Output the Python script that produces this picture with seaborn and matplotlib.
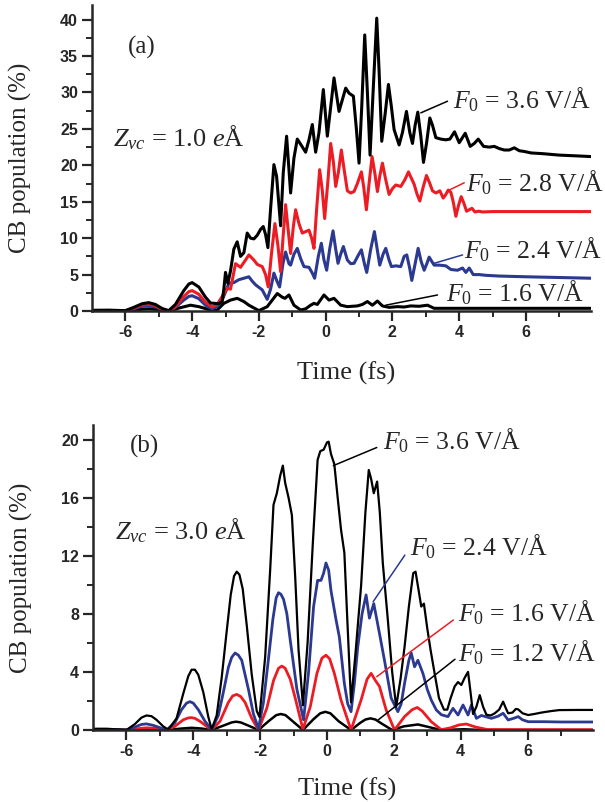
import matplotlib
matplotlib.use("Agg")
import matplotlib.pyplot as plt
import seaborn as sns
import pandas as pd

# ---------------- data (time in fs, CB population in %) ----------------
# Panel (a): Z_vc = 1.0 eÅ
a_f36 = [(-7.0,0.1),(-6.5,0.12),(-6.0,0.05),(-5.75,0.5),(-5.5,1.0),(-5.3,1.15),(-5.1,0.9),(-4.9,0.35),
         (-4.7,0.05),(-4.5,0.9),(-4.25,2.8),(-4.1,3.7),(-4.0,3.9),(-3.8,3.3),(-3.6,1.9),(-3.45,1.1),(-3.2,1.0),
         (-3.1,1.3),(-3.05,3.0),(-3.0,5.3),(-2.93,3.8),(-2.85,5.5),(-2.75,8.5),(-2.65,9.5),(-2.55,7.5),
         (-2.45,8.0),(-2.35,10.7),(-2.25,10.0),(-2.15,9.9),(-2.05,10.4),(-1.95,11.2),(-1.87,11.6),
         (-1.8,10.5),(-1.73,8.7),(-1.65,14.0),(-1.55,20.1),(-1.47,18.5),(-1.35,11.7),(-1.27,19.0),
         (-1.17,24.0),(-1.05,16.2),(-0.95,21.0),(-0.85,23.6),(-0.75,22.9),(-0.6,21.8),(-0.5,23.5),
         (-0.4,25.6),(-0.3,21.8),(-0.2,24.5),(-0.07,30.4),(0.05,24.0),(0.15,28.0),(0.25,32.0),
         (0.4,27.4),(0.5,29.0),(0.6,30.6),(0.7,29.9),(0.83,29.5),(0.92,25.0),(1.0,20.3),(1.08,28.0),
         (1.17,37.9),(1.25,30.0),(1.33,21.4),(1.42,30.0),(1.53,40.2),(1.6,33.0),(1.68,23.3),(1.78,27.0),
         (1.88,31.1),(1.97,28.0),(2.05,24.9),(2.2,22.8),(2.3,24.5),(2.42,27.4),(2.52,24.5),(2.6,23.0),
         (2.68,25.5),(2.76,27.3),(2.85,24.0),(2.93,20.4),(3.02,23.0),(3.12,26.5),(3.2,25.5),(3.3,23.8),
         (3.45,23.6),(3.6,23.5),(3.72,23.6),(3.86,24.6),(4.0,23.1),(4.18,24.4),(4.33,22.6),(4.45,23.0),
         (4.57,23.6),(4.73,22.6),(4.9,22.5),(5.05,22.6),(5.2,22.3),(5.35,22.1),(5.5,22.1),(5.65,22.4),
         (5.8,22.0),(5.95,21.9),(6.15,21.7),(6.5,21.6),(7.0,21.4),(7.5,21.3),(7.95,21.2)]
a_f28 = [(-7.0,0.05),(-6.0,0.02),(-5.75,0.4),(-5.5,0.85),(-5.3,0.95),(-5.1,0.75),(-4.9,0.25),(-4.7,0.02),
         (-4.5,0.6),(-4.25,2.0),(-4.1,2.65),(-4.0,2.8),(-3.8,2.3),(-3.6,1.2),(-3.4,0.55),(-3.25,0.9),(-3.1,2.0),
         (-2.95,3.1),(-2.85,3.0),(-2.7,6.5),(-2.55,6.0),(-2.4,7.0),(-2.3,7.7),(-2.15,7.0),(-2.05,6.4),
         (-1.9,6.1),(-1.8,5.0),(-1.72,3.3),(-1.62,8.0),(-1.52,12.0),(-1.43,9.0),(-1.35,5.4),(-1.27,10.5),
         (-1.2,14.6),(-1.12,11.0),(-1.05,7.9),(-0.97,11.5),(-0.9,13.9),(-0.8,12.0),(-0.7,10.7),(-0.6,10.9),
         (-0.5,11.1),(-0.42,10.0),(-0.35,8.6),(-0.27,14.0),(-0.18,19.4),(-0.1,16.5),(-0.03,12.7),(0.07,18.0),
         (0.15,23.0),(0.23,20.5),(0.3,17.1),(0.38,19.0),(0.47,22.1),(0.55,19.5),(0.65,16.5),(0.75,16.2),
         (0.85,16.4),(0.95,17.5),(1.07,19.1),(1.14,17.0),(1.22,13.9),(1.3,17.5),(1.39,21.2),(1.47,19.0),
         (1.55,16.4),(1.62,18.5),(1.7,20.3),(1.8,18.0),(1.9,16.0),(2.0,16.8),(2.1,17.3),(2.25,17.1),
         (2.37,18.0),(2.48,19.1),(2.56,18.3),(2.65,17.4),(2.74,16.0),(2.82,15.1),(2.92,17.0),(3.02,18.6),
         (3.12,17.5),(3.2,16.5),(3.3,16.2),(3.42,16.5),(3.52,15.5),(3.6,16.0),(3.67,16.6),(3.75,16.3),
         (3.82,15.0),(3.9,13.0),(3.98,14.5),(4.06,15.7),(4.14,14.8),(4.22,13.7),(4.3,13.9),(4.38,14.1),
         (4.47,13.6),(4.58,13.7),(4.7,13.6),(5.0,13.65),(6.0,13.65),(7.95,13.65)]
a_f24 = [(-7.0,0.05),(-6.0,0.02),(-5.75,0.3),(-5.5,0.65),(-5.3,0.7),(-5.1,0.55),(-4.9,0.2),(-4.7,0.02),
         (-4.5,0.5),(-4.25,1.5),(-4.1,2.0),(-4.0,2.1),(-3.8,1.7),(-3.6,0.8),(-3.4,0.3),(-3.25,0.6),(-3.1,1.5),
         (-3.0,2.6),(-2.9,3.8),(-2.75,3.9),(-2.6,4.3),(-2.45,4.5),(-2.3,4.7),(-2.2,4.1),(-2.1,3.6),
         (-1.9,2.9),(-1.75,1.6),(-1.65,3.0),(-1.55,5.2),(-1.45,4.0),(-1.38,3.3),(-1.28,6.5),(-1.2,8.1),
         (-1.1,6.5),(-1.05,6.3),(-0.95,7.8),(-0.85,8.6),(-0.75,7.2),(-0.65,6.1),(-0.5,6.0),(-0.4,5.2),
         (-0.33,4.5),(-0.22,7.5),(-0.13,9.3),(-0.05,7.0),(0.03,5.6),(0.12,8.5),(0.22,11.0),(0.3,8.5),
         (0.37,6.55),(0.45,7.8),(0.53,8.85),(0.65,7.0),(0.75,6.5),(0.85,6.55),(0.97,7.6),(1.07,8.4),
         (1.16,6.5),(1.23,5.3),(1.35,8.5),(1.46,10.9),(1.55,8.3),(1.62,6.3),(1.72,7.8),(1.8,8.6),
         (1.9,7.0),(1.97,6.1),(2.1,6.2),(2.25,6.1),(2.35,7.5),(2.43,7.7),(2.52,5.8),(2.58,4.2),
         (2.68,6.5),(2.77,8.6),(2.86,6.8),(2.95,5.6),(3.03,6.5),(3.1,7.4),(3.18,6.8),(3.25,6.3),
         (3.4,6.3),(3.6,6.2),(3.75,5.7),(3.95,5.6),(4.1,5.9),(4.2,5.3),(4.3,5.9),(4.42,5.0),
         (4.6,5.0),(4.8,4.9),(5.2,4.8),(6.0,4.7),(7.0,4.6),(7.95,4.5)]
a_f16 = [(-7.0,0.05),(-6.0,0.02),(-5.6,0.2),(-5.3,0.3),(-5.0,0.2),(-4.7,0.02),(-4.4,0.4),(-4.05,0.8),
         (-3.8,0.6),(-3.5,0.2),(-3.25,0.13),(-3.05,1.05),(-2.85,1.5),(-2.65,1.74),(-2.45,1.3),(-2.3,0.8),
         (-2.0,0.05),(-1.75,0.6),(-1.6,1.5),(-1.45,2.4),(-1.3,1.9),(-1.22,1.74),(-1.1,2.2),(-0.95,0.8),
         (-0.75,0.14),(-0.6,0.3),(-0.45,0.8),(-0.35,1.05),(-0.25,0.9),(-0.05,2.2),(0.1,1.5),(0.25,1.74),
         (0.45,0.8),(0.65,0.6),(0.95,0.7),(1.1,0.9),(1.25,1.3),(1.4,0.8),(1.55,1.37),(1.7,0.7),
         (1.9,0.5),(2.15,0.6),(2.35,0.55),(2.55,0.7),(2.8,0.65),(3.05,0.8),(3.25,0.37),(4.0,0.37),
         (7.95,0.37)]

# Panel (b): Z_vc = 3.0 eÅ
b_f36 = [(-7.0,0.08),(-6.6,0.08),(-6.2,0.03),(-6.0,0.0),(-5.75,0.4),(-5.55,0.85),(-5.4,1.0),(-5.25,0.95),
         (-5.1,0.7),(-4.9,0.25),(-4.75,0.02),(-4.5,0.8),(-4.3,2.5),(-4.15,3.7),(-4.05,4.15),(-3.95,4.15),
         (-3.85,3.8),(-3.7,2.6),(-3.55,0.9),(-3.45,0.05),(-3.3,1.0),(-3.15,3.6),(-3.0,6.8),(-2.88,9.3),
         (-2.78,10.6),(-2.7,10.9),(-2.62,10.7),(-2.52,9.7),(-2.4,7.2),(-2.25,3.8),(-2.1,1.3),(-2.02,0.9),
         (-1.85,5.0),(-1.7,11.0),(-1.6,15.5),(-1.5,16.3),(-1.4,17.5),(-1.32,18.2),(-1.25,17.0),
         (-1.15,16.0),(-1.05,14.8),(-0.95,10.5),(-0.85,5.5),(-0.72,1.7),(-0.58,6.0),(-0.42,13.0),
         (-0.28,18.6),(-0.2,19.2),(-0.1,19.3),(0.0,19.8),(0.05,19.85),(0.12,19.0),(0.22,18.3),
         (0.32,16.0),(0.42,13.8),(0.52,12.2),(0.62,7.0),(0.72,1.9),(0.85,5.2),(1.02,9.9),(1.15,15.0),
         (1.25,17.9),(1.32,17.3),(1.4,16.3),(1.5,17.1),(1.58,15.0),(1.67,11.5),(1.82,7.6),(1.95,4.0),
         (2.07,1.6),(2.2,3.5),(2.32,5.7),(2.45,8.5),(2.58,10.8),(2.65,10.9),(2.75,9.5),(2.82,8.5),
         (2.9,8.7),(3.0,7.0),(3.1,5.5),(3.22,3.9),(3.35,2.2),(3.5,1.4),(3.6,1.4),(3.7,2.2),(3.82,3.0),
         (3.92,3.3),(4.02,3.1),(4.12,3.6),(4.22,4.0),(4.3,2.5),(4.37,1.1),(4.47,1.6),(4.57,2.4),
         (4.67,1.6),(4.77,1.05),(4.9,1.0),(5.02,1.15),(5.15,1.4),(5.27,1.95),(5.35,1.5),(5.42,1.15),
         (5.55,1.2),(5.65,1.45),(5.72,1.42),(5.85,1.15),(6.02,1.03),(6.2,1.1),(6.42,1.2),(6.7,1.3),
         (6.95,1.37),(7.5,1.38),(7.95,1.38)]
b_f24 = [(-7.0,0.05),(-6.5,0.05),(-6.0,0.0),(-5.75,0.2),(-5.55,0.38),(-5.4,0.42),(-5.2,0.32),(-4.8,0.0),
         (-4.55,0.5),(-4.35,1.4),(-4.2,1.85),(-4.1,1.95),(-4.0,1.85),(-3.85,1.4),(-3.65,0.6),(-3.45,0.02),
         (-3.25,1.0),(-3.1,2.6),(-2.95,4.3),(-2.85,5.0),(-2.75,5.3),(-2.65,5.15),(-2.55,4.8),(-2.35,2.8),
         (-2.2,1.1),(-2.05,0.1),(-1.9,1.9),(-1.75,4.9),(-1.62,7.6),(-1.52,9.1),(-1.45,9.45),(-1.38,9.35),
         (-1.3,9.0),(-1.2,8.0),(-1.1,6.2),(-0.9,2.8),(-0.7,0.7),(-0.55,4.0),(-0.4,8.5),(-0.28,10.3),
         (-0.18,10.3),(-0.1,10.8),(-0.03,11.5),(0.05,11.0),(0.12,9.6),(0.27,7.6),(0.37,6.4),(0.52,3.2),
         (0.62,1.8),(0.72,1.26),(0.82,3.2),(0.92,5.7),(1.05,8.0),(1.17,9.3),(1.27,7.7),(1.4,8.7),
         (1.57,6.65),(1.72,4.8),(1.92,2.2),(2.12,1.26),(2.22,1.8),(2.32,3.2),(2.45,4.8),(2.52,5.3),
         (2.62,4.35),(2.72,4.8),(2.87,3.9),(3.0,2.8),(3.12,2.06),(3.27,1.38),(3.42,1.05),(3.62,0.92),
         (3.77,1.49),(3.92,1.03),(4.07,1.72),(4.22,1.03),(4.32,1.72),(4.47,0.8),(4.62,1.0),(4.92,0.8),
         (5.12,0.95),(5.27,1.15),(5.42,0.69),(5.58,0.8),(5.72,0.92),(5.85,0.7),(6.02,0.57),(6.5,0.57),
         (7.0,0.55),(7.95,0.55)]
b_f16 = [(-7.0,0.02),(-6.0,0.0),(-5.7,0.08),(-5.4,0.15),(-5.1,0.1),(-4.8,0.0),(-4.55,0.25),(-4.3,0.7),
         (-4.15,0.83),(-4.05,0.85),(-3.95,0.8),(-3.8,0.6),(-3.6,0.25),(-3.45,0.0),(-3.2,0.6),(-2.95,1.9),
         (-2.82,2.35),(-2.7,2.45),(-2.58,2.3),(-2.45,1.9),(-2.25,0.8),(-2.05,0.0),(-1.8,1.5),(-1.6,3.4),
         (-1.45,4.25),(-1.35,4.4),(-1.25,4.25),(-1.1,3.5),(-0.95,2.2),(-0.72,0.05),(-0.5,1.6),(-0.3,3.9),
         (-0.15,4.95),(-0.03,5.15),(0.08,4.9),(0.22,3.9),(0.42,2.06),(0.72,0.0),(1.02,2.06),(1.2,3.5),
         (1.32,3.9),(1.45,3.4),(1.57,3.0),(1.77,1.38),(2.02,0.0),(2.32,0.92),(2.55,1.4),(2.7,1.55),
         (2.85,1.3),(3.12,0.57),(3.42,0.02),(3.7,0.15),(3.95,0.35),(4.17,0.41),(4.45,0.2),(4.8,0.03),
         (7.95,0.02)]
b_f12 = [(-7.0,0.0),(-5.7,0.02),(-5.4,0.03),(-4.8,0.0),(-4.35,0.1),(-4.05,0.15),(-3.75,0.1),(-3.45,0.0),
         (-3.1,0.3),(-2.85,0.52),(-2.72,0.57),(-2.58,0.52),(-2.35,0.3),(-2.05,0.0),(-1.75,0.6),(-1.52,1.02),
         (-1.38,1.1),(-1.24,1.02),(-1.0,0.55),(-0.72,0.0),(-0.4,0.75),(-0.2,1.15),(-0.05,1.25),(0.1,1.15),
         (0.35,0.6),(0.72,0.0),(1.0,0.5),(1.15,0.72),(1.3,0.8),(1.45,0.72),(1.65,0.42),(1.95,0.0),
         (2.3,0.25),(2.72,0.38),(3.05,0.2),(3.4,0.0),(4.1,0.05),(4.6,0.0),(7.95,0.0)]

a_labels = ["$F_0$ = 3.6 V/Å", "$F_0$ = 2.8 V/Å", "$F_0$ = 2.4 V/Å", "$F_0$ = 1.6 V/Å"]
b_labels = ["$F_0$ = 3.6 V/Å", "$F_0$ = 2.4 V/Å", "$F_0$ = 1.6 V/Å", "$F_0$ = 1.2 V/Å"]
x_ticks = [-6, -4, -2, 0, 2, 4, 6]
a_yticks = [0, 5, 10, 15, 20, 25, 30, 35, 40]
b_yticks = [0, 4, 8, 12, 16, 20]

BLACK, RED, BLUE = "#000000", "#ec1c24", "#2b3990"

# ---------------- style ----------------
sns.set_style("ticks")
plt.rcParams.update({
    "font.family": ["Liberation Serif", "DejaVu Serif"],
    "mathtext.fontset": "custom",
    "mathtext.rm": "Liberation Serif",
    "mathtext.it": "Liberation Serif:italic",
    "mathtext.bf": "Liberation Serif:bold",
    "axes.unicode_minus": False,
    "axes.linewidth": 1.8,
    "lines.solid_joinstyle": "round",
    "lines.solid_capstyle": "round",
})

fig = plt.figure(figsize=(6.05, 8.02), dpi=100)
ax1 = fig.add_axes([0.152, 0.6122, 0.825, 0.3815])
ax2 = fig.add_axes([0.1537, 0.0898, 0.826, 0.3803])


def draw(ax, pairs, color, lw):
    df = pd.DataFrame(pairs, columns=["t", "v"])
    sns.lineplot(data=df, x="t", y="v", ax=ax, color=color, linewidth=lw,
                 sort=False, estimator=None, legend=False)


draw(ax1, a_f16, BLACK, 2.2)
draw(ax1, a_f24, BLUE, 2.2)
draw(ax1, a_f28, RED, 2.2)
draw(ax1, a_f36, BLACK, 2.2)

draw(ax2, b_f12, BLACK, 1.8)
draw(ax2, b_f16, RED, 2.0)
draw(ax2, b_f24, BLUE, 2.0)
draw(ax2, b_f36, BLACK, 1.6)

for ax, yt, ymax in [(ax1, a_yticks, 42), (ax2, b_yticks, 21)]:
    ax.set_xlim(-7, 7.95)
    ax.set_ylim(0, ymax)
    ax.set_xticks(x_ticks)
    ax.set_xticks([-5, -3, -1, 1, 3, 5, 7], minor=True)
    ax.set_yticks(yt)
    step = yt[1] - yt[0]
    ax.set_yticks([v + step / 2 for v in yt[:-1]], minor=True)
    ax.set_xticklabels([str(v) for v in x_ticks])
    ax.set_yticklabels([str(v) for v in yt])
    for s in ["top", "right"]:
        ax.spines[s].set_visible(False)
    ax.tick_params(which="major", direction="out", length=7, width=1.6, pad=3)
    ax.tick_params(which="minor", direction="out", length=4, width=1.4)
    for lab in ax.get_xticklabels() + ax.get_yticklabels():
        lab.set_fontfamily("Liberation Sans")
        lab.set_fontweight("bold")
        lab.set_fontsize(11.5)
    ax.set_xlabel("Time (fs)", fontsize=19)
    ax.set_ylabel("CB population (%)", fontsize=18)
    ax.yaxis.set_label_coords(-0.12, 0.5)

ax1.xaxis.set_label_coords(0.509, -0.165)
ax2.xaxis.set_label_coords(0.509, -0.155)

# ---------------- annotations ----------------
ax1.text(-5.92, 35.3, "(a)", fontsize=18)
ax1.text(-6.37, 22.6, "$Z_{vc}$ = 1.0 $e$Å", fontsize=19)
a_pos = [(3.8, 27.8), (4.19, 16.4), (4.15, 7.24), (3.6, 1.28)]
a_lead = [((2.85, 27.2), (3.65, 28.8), BLACK), ((3.7, 16.6), (4.15, 17.6), RED),
          ((3.25, 6.55), (4.1, 7.7), BLUE), ((1.8, 0.8), (3.35, 2.2), BLACK)]
for lab, (x, y), (p0, p1, c) in zip(a_labels, a_pos, a_lead):
    ax1.text(x, y, lab, fontsize=18.5, clip_on=False)
    ax1.plot([p0[0], p1[0]], [p0[1], p1[1]], color=c, lw=1.1)

ax2.text(-5.9, 19.1, "(b)", fontsize=18)
ax2.text(-6.34, 13.1, "$Z_{vc}$ = 3.0 $e$Å", fontsize=19)
b_pos = [(1.68, 19.3), (2.48, 12.05), (3.93, 7.46), (3.93, 4.7)]
b_lead = [((0.19, 18.2), (1.49, 19.45), BLACK), ((1.38, 8.83), (2.33, 12.04), BLUE),
          ((1.49, 3.67), (3.78, 7.57), RED), ((1.53, 0.69), (3.83, 4.87), BLACK)]
for lab, (x, y), (p0, p1, c) in zip(b_labels, b_pos, b_lead):
    ax2.text(x, y, lab, fontsize=18.5, clip_on=False)
    ax2.plot([p0[0], p1[0]], [p0[1], p1[1]], color=c, lw=1.1)

fig.savefig("out.png", dpi=100)
